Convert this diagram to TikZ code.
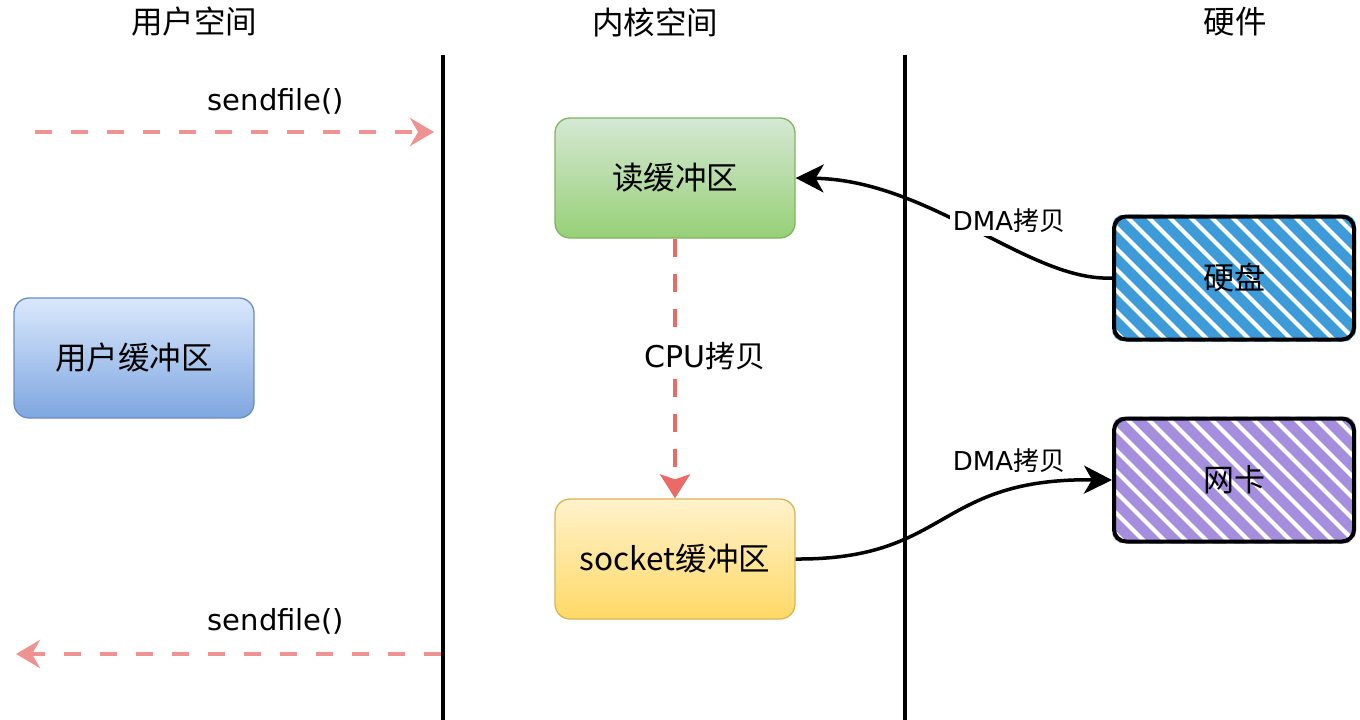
\documentclass[tikz,border=0pt]{standalone}
\usepackage{fontspec}
\setmainfont{Noto Sans CJK SC}
\newfontfamily\lat{DejaVu Sans}
\usetikzlibrary{arrows.meta,calc}
\pgfdeclarelayer{background}
\pgfsetlayers{background,main}
\definecolor{sendpink}{RGB}{238,146,146}
\definecolor{cpured}{RGB}{234,107,102}
\definecolor{greentop}{RGB}{213,232,212}
\definecolor{greenbot}{RGB}{151,208,119}
\definecolor{greenline}{RGB}{130,179,102}
\definecolor{bluetop}{RGB}{218,232,252}
\definecolor{bluebot}{RGB}{126,166,224}
\definecolor{blueline}{RGB}{108,142,191}
\definecolor{yeltop}{RGB}{255,242,204}
\definecolor{yelbot}{RGB}{255,217,102}
\definecolor{yelline}{RGB}{214,182,86}
\definecolor{hatchblue}{RGB}{61,155,218}
\definecolor{hatchpurple}{RGB}{166,142,222}
\begin{document}
\begin{tikzpicture}[x=1pt,y=-1pt,
  heading/.style={font=\fontsize{31.5}{36}\selectfont, inner sep=0pt},
  buf/.style={rounded corners=15pt, minimum width=240pt, minimum height=120pt,
    line width=1.3pt, font=\fontsize{31.5}{36}\selectfont},
  hw/.style={draw=black, line width=4pt, rounded corners=12pt, minimum width=240pt,
    minimum height=123pt, font=\fontsize{31}{36}\selectfont},
  divider/.style={line width=4.5pt, black},
  sendarrow/.style={sendpink, line width=4pt, dash pattern=on 17pt off 19pt,
    -{Stealth[length=24pt,width=28pt,inset=8pt]}},
  cpuarrow/.style={cpured, line width=4pt, dash pattern=on 18pt off 17pt,
    -{Stealth[length=24pt,width=30pt,inset=5pt]}},
  dmaarrow/.style={black, line width=3.5pt, -{Stealth[length=28pt,width=28pt,inset=8pt]}},
  lbl/.style={font=\fontsize{24}{28}\selectfont, inner sep=1pt},
  hatch/.style={line width=10.5pt}
]
\useasboundingbox (0,0) rectangle (1360,720);

% headings
\node[heading] (h1) at (194,22) {用户空间};
\node[heading] (h2) at (655,22) {内核空间};
\node[heading] (h3) at (1235,22) {硬件};

% dividers
\coordinate (d1t) at (443,55);
\coordinate (d1b) at (443,722);
\coordinate (d2t) at (905,55);
\coordinate (d2b) at (905,722);
\draw[divider] (d1t) -- (d1b);
\draw[divider] (d2t) -- (d2b);

% buffers
\node[buf, top color=greentop, bottom color=greenbot, draw=greenline] (read) at (675,178) {读缓冲区};
\node[buf, top color=bluetop, bottom color=bluebot, draw=blueline] (user) at (134,358) {用户缓冲区};
\node[buf, top color=yeltop, bottom color=yelbot, draw=yelline] (sock) at (675,559) {socket缓冲区};

% hardware
\node[hw] (disk) at (1234,278) {硬盘};
\node[hw] (nic) at (1234,480) {网卡};
\begin{pgfonlayer}{background}
  \fill[white] (0,0) rectangle (1360,720);
  \begin{scope}
    \clip[rounded corners=12pt] (disk.north west) rectangle (disk.south east);
    \foreach \i in {-150,-129,...,260}
      \draw[hatch, hatchblue] ($(disk.north west)+(\i,-5)$) -- ++(135,135);
  \end{scope}
  \begin{scope}
    \clip[rounded corners=12pt] (nic.north west) rectangle (nic.south east);
    \foreach \i in {-150,-129,...,260}
      \draw[hatch, hatchpurple] ($(nic.north west)+(\i,-5)$) -- ++(135,135);
  \end{scope}
\end{pgfonlayer}

% sendfile arrows
\coordinate (s1a) at (35,132);
\coordinate (s1b) at (434,132);
\draw[sendarrow] (s1a) -- (s1b);
\node[lbl, font=\lat\fontsize{29}{34}\selectfont] (sf1) at (276,101) {sendfile()};
\coordinate (s2a) at (441,654);
\coordinate (s2b) at (16,654);
\draw[sendarrow] (s2a) -- (s2b);
\node[lbl, font=\lat\fontsize{29}{34}\selectfont] (sf2) at (276,621) {sendfile()};

% CPU copy
\draw[cpuarrow] (read.south) -- (sock.north);
\node[lbl, fill=white, inner sep=3pt, font=\fontsize{30}{34}\selectfont] (cpu) at (705,356) {{\lat CPU}拷贝};

% DMA copies
\draw[dmaarrow] (disk.west) .. controls (1030,282) and (930,180) .. (read.east);
\node[lbl, fill=white, inner sep=3pt, font=\fontsize{26}{30}\selectfont] (dma1) at (1009,221) {{\lat DMA}拷贝};
\draw[dmaarrow] (sock.east) .. controls (950,560) and (935,478) .. (nic.west);
\node[lbl, font=\fontsize{26}{30}\selectfont] (dma2) at (1009,461) {{\lat DMA}拷贝};
\end{tikzpicture}
\end{document}
